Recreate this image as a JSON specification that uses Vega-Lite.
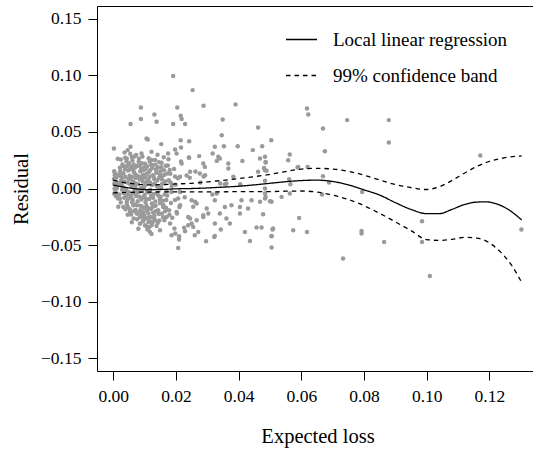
{
  "$schema": "https://vega.github.io/schema/vega-lite/v6.json",
  "width": 441,
  "height": 365,
  "autosize": {"type": "none"},
  "padding": {"left": 97, "top": 6, "right": 0, "bottom": 79},
  "config": {
    "font": "Liberation Serif",
    "view": {"stroke": "black", "strokeWidth": 1},
    "axis": {"grid": false, "domain": false, "tickColor": "black", "tickSize": 9, "tickWidth": 1, "labelFont": "Liberation Serif", "labelFontSize": 17.5, "labelColor": "black", "titleFont": "Liberation Serif", "titleFontSize": 20.5, "titleFontWeight": "normal", "titleColor": "black"}
  },
  "datasets": {
    "pts": [
      {"x":0.0191,"y":0.0993},{"x":0.0253,"y":0.0869},{"x":0.0088,"y":0.0716},{"x":0.0204,"y":0.0716},{"x":0.0288,"y":0.073},{"x":0.039,"y":0.0743},{"x":0.0131,"y":0.0654},{"x":0.0088,"y":0.0613},{"x":0.0215,"y":0.0642},{"x":0.0218,"y":0.0613},{"x":0.0055,"y":0.0569},{"x":0.0138,"y":0.0589},{"x":0.0191,"y":0.0569},{"x":0.0229,"y":0.0569},{"x":0.0349,"y":0.061},{"x":0.0462,"y":0.0539},{"x":0.0346,"y":0.0471},{"x":0.0106,"y":0.0442},{"x":0.011,"y":0.0433},{"x":0.0215,"y":0.0427},{"x":0.0242,"y":0.0418},{"x":0.0504,"y":0.0427},{"x":0.0153,"y":0.0392},{"x":0.0002,"y":0.0354},{"x":0.0055,"y":0.0368},{"x":0.0324,"y":0.0368},{"x":0.0353,"y":0.0374},{"x":0.0397,"y":0.0374},{"x":0.0445,"y":0.0339},{"x":0.0475,"y":0.0374},{"x":0.0563,"y":0.0301},{"x":0.062,"y":0.0191},{"x":0.059,"y":0.0191},{"x":0.0046,"y":0.0339},{"x":0.009,"y":0.0309},{"x":0.0122,"y":0.0324},{"x":0.0175,"y":0.0309},{"x":0.0202,"y":0.0309},{"x":0.0241,"y":0.0274},{"x":0.0274,"y":0.0286},{"x":0.0317,"y":0.0309},{"x":0.0335,"y":0.028},{"x":0.033,"y":0.0244},{"x":0.0367,"y":0.0221},{"x":0.0412,"y":0.0244},{"x":0.0468,"y":0.0265},{"x":0.0486,"y":0.0235},{"x":0.0462,"y":0.0147},{"x":0.0489,"y":0.0156},{"x":0.0287,"y":0.0221},{"x":0.0292,"y":0.0191},{"x":0.0245,"y":0.0147},{"x":0.0213,"y":0.0103},{"x":0.0276,"y":0.0133},{"x":0.0383,"y":0.0103},{"x":0.0361,"y":0.0044},{"x":0.0024,"y":0.0256},{"x":0.0043,"y":0.0265},{"x":0.0059,"y":0.0279},
      {"x":0.0197,"y":0.0345},{"x":0.0216,"y":0.0363},{"x":0.034,"y":0.0265},{"x":0.0242,"y":0.0271},{"x":0.0218,"y":0.0221},{"x":0.0262,"y":0.015},{"x":0.0234,"y":0.0115},{"x":0.0244,"y":0.0095},{"x":0.0197,"y":0.0106},{"x":0.0288,"y":0.0106},{"x":0.0293,"y":0.0118},{"x":0.0341,"y":0.0044},{"x":0.0356,"y":0.0038},{"x":0.0405,"y":0.0038},{"x":0.0481,"y":0.0182},{"x":0.0367,"y":0.0177},{"x":0.0278,"y":0.0053},{"x":0.0316,"y":-0.0053},{"x":0.033,"y":-0.0044},
      {"x":0.0043,"y":-0.0059},{"x":0.0032,"y":-0.0163},{"x":0.0053,"y":-0.0207},{"x":0.0075,"y":-0.0221},{"x":0.0085,"y":-0.0251},{"x":0.0096,"y":-0.028},{"x":0.0112,"y":-0.0295},{"x":0.0117,"y":-0.0384},{"x":0.0149,"y":-0.0369},{"x":0.0186,"y":-0.0413},{"x":0.021,"y":-0.0422},{"x":0.021,"y":-0.0451},{"x":0.0207,"y":-0.0525},{"x":0.026,"y":-0.0413},{"x":0.0271,"y":-0.0384},{"x":0.0296,"y":-0.0466},{"x":0.0322,"y":-0.0428},{"x":0.0343,"y":-0.0363},{"x":0.042,"y":-0.0384},{"x":0.0436,"y":-0.0463},{"x":0.0457,"y":-0.0345},{"x":0.0473,"y":-0.0345},{"x":0.0505,"y":-0.0422},{"x":0.0508,"y":-0.0363},{"x":0.0505,"y":-0.0522},{"x":0.0478,"y":-0.0227},{"x":0.0574,"y":-0.0369},{"x":0.0593,"y":-0.026},{"x":0.0618,"y":-0.0384},{"x":0.0181,"y":-0.031},{"x":0.017,"y":-0.0251},{"x":0.0239,"y":-0.0251},{"x":0.025,"y":-0.031},{"x":0.0266,"y":-0.028},{"x":0.0287,"y":-0.0251},{"x":0.0298,"y":-0.0177},{"x":0.0324,"y":-0.031},{"x":0.0361,"y":-0.0265},{"x":0.0372,"y":-0.031},{"x":0.034,"y":-0.0221},{"x":0.0356,"y":-0.0163},{"x":0.0377,"y":-0.0148},{"x":0.0404,"y":-0.0163},{"x":0.0404,"y":-0.0221},{"x":0.043,"y":-0.0177},{"x":0.0468,"y":-0.0118},{"x":0.0484,"y":-0.0088},{"x":0.0505,"y":-0.0118},{"x":0.0537,"y":-0.0074},{"x":0.0563,"y":-0.0044},{"x":0.0324,"y":-0.0103},{"x":0.025,"y":-0.0103},{"x":0.0266,"y":-0.0133},{"x":0.0213,"y":-0.0148},{"x":0.0202,"y":-0.0207},{"x":0.0207,"y":-0.0088},{"x":0.0159,"y":-0.0163},{"x":0.0143,"y":-0.0207},{"x":0.0133,"y":-0.028},{"x":0.0122,"y":-0.0324},{"x":0.0101,"y":-0.0324},{"x":0.009,"y":-0.0207},{"x":0.0064,"y":-0.0148},{"x":0.0043,"y":-0.0118},{"x":0.0021,"y":-0.0088},{"x":0.0409,"y":-0.0103},{"x":0.0441,"y":-0.0103},
      {"x":0.0228,"y":-0.0077},{"x":0.0261,"y":-0.0118},{"x":0.0255,"y":-0.0162},{"x":0.0287,"y":-0.0236},{"x":0.0303,"y":-0.0221},{"x":0.0245,"y":-0.0265},{"x":0.0239,"y":-0.0324},{"x":0.0255,"y":-0.0339},{"x":0.0324,"y":-0.0419},{"x":0.0195,"y":-0.0353},{"x":0.0198,"y":-0.0398},{"x":0.0226,"y":-0.0346},{"x":0.0229,"y":-0.0377},
      {"x":0.0618,"y":0.0707},{"x":0.0622,"y":0.0654},{"x":0.0746,"y":0.0604},{"x":0.0879,"y":0.0604},{"x":0.0879,"y":0.0407},{"x":0.0669,"y":0.053},{"x":0.0675,"y":0.033},{"x":0.0484,"y":0.028},{"x":0.0486,"y":0.023},{"x":0.0484,"y":0.0162},{"x":0.0558,"y":0.025},{"x":0.0588,"y":0.0186},{"x":0.0669,"y":0.0109},{"x":0.0688,"y":0.0053},{"x":0.0561,"y":0.0082},{"x":0.0565,"y":0.0038},{"x":0.0484,"y":0.0068},{"x":0.0484,"y":0.0},{"x":0.0484,"y":-0.0044},{"x":0.0486,"y":-0.0074},{"x":0.05,"y":-0.0112},{"x":0.0666,"y":-0.0053},{"x":0.0794,"y":-0.003},{"x":0.051,"y":-0.0354},{"x":0.0505,"y":-0.0419},{"x":0.0792,"y":-0.0375},{"x":0.0792,"y":-0.0398},{"x":0.0864,"y":-0.0472},{"x":0.0733,"y":-0.0619},{"x":0.1171,"y":0.0292},{"x":0.0985,"y":-0.0289},{"x":0.0985,"y":-0.0472},{"x":0.101,"y":-0.0773},{"x":0.1302,"y":-0.0363},
      {"x":0.0003,"y":0.0153},{"x":0.0005,"y":0.0118},{"x":0.0002,"y":0.0085},{"x":0.0006,"y":0.0062},{"x":0.0003,"y":0.0041},{"x":0.0008,"y":0.0021},{"x":0.0004,"y":-0.0003},{"x":0.0007,"y":-0.0024},{"x":0.0003,"y":-0.0047},{"x":0.0009,"y":-0.0068},{"x":0.0005,"y":0.0134},{"x":0.001,"y":0.0098},
      {"x":0.0014,"y":0.0262},{"x":0.0021,"y":0.0184},{"x":0.0017,"y":0.0122},{"x":0.0025,"y":0.0071},{"x":0.0013,"y":0.0033},{"x":0.0028,"y":-0.0012},{"x":0.0019,"y":-0.0052},{"x":0.0024,"y":-0.0124},{"x":0.0029,"y":0.0213},{"x":0.0016,"y":-0.0161},{"x":0.0027,"y":0.0094},{"x":0.0022,"y":0.0152},{"x":0.0018,"y":0.0048},
      {"x":0.0036,"y":0.0318},{"x":0.0042,"y":0.0241},{"x":0.0033,"y":0.0196},{"x":0.0047,"y":0.0158},{"x":0.0038,"y":0.0104},{"x":0.0045,"y":0.0052},{"x":0.0031,"y":0.0011},{"x":0.0049,"y":-0.0031},{"x":0.0035,"y":-0.0082},{"x":0.0043,"y":-0.0136},{"x":0.0039,"y":-0.0184},{"x":0.0046,"y":-0.0232},{"x":0.0032,"y":0.0134},{"x":0.0048,"y":0.0087},{"x":0.0041,"y":-0.0012},
      {"x":0.0054,"y":0.0308},{"x":0.0061,"y":0.0247},{"x":0.0057,"y":0.0192},{"x":0.0066,"y":0.0143},{"x":0.0052,"y":0.0113},{"x":0.0063,"y":0.0062},{"x":0.0058,"y":0.0024},{"x":0.0067,"y":-0.0018},{"x":0.0055,"y":-0.0064},{"x":0.0062,"y":-0.0102},{"x":0.0069,"y":-0.0141},{"x":0.0053,"y":-0.0183},{"x":0.0065,"y":-0.0264},{"x":0.0059,"y":-0.0298},{"x":0.0068,"y":0.0283},{"x":0.0056,"y":0.0083},{"x":0.0064,"y":-0.0043},{"x":0.0051,"y":0.0168},
      {"x":0.0073,"y":0.0296},{"x":0.0081,"y":0.0236},{"x":0.0077,"y":0.0201},{"x":0.0086,"y":0.0153},{"x":0.0072,"y":0.0122},{"x":0.0084,"y":0.0079},{"x":0.0079,"y":0.0038},{"x":0.0088,"y":0.0003},{"x":0.0074,"y":-0.0036},{"x":0.0083,"y":-0.0073},{"x":0.0078,"y":-0.0113},{"x":0.0087,"y":-0.0152},{"x":0.0071,"y":-0.0189},{"x":0.0085,"y":-0.0312},{"x":0.0076,"y":-0.0272},{"x":0.0089,"y":0.0172},{"x":0.0075,"y":-0.0009},{"x":0.0082,"y":0.0264},{"x":0.008,"y":-0.0356},
      {"x":0.0093,"y":0.0282},{"x":0.0101,"y":0.0218},{"x":0.0097,"y":0.0184},{"x":0.0106,"y":0.0131},{"x":0.0092,"y":0.0093},{"x":0.0104,"y":0.0052},{"x":0.0098,"y":0.0014},{"x":0.0108,"y":-0.0028},{"x":0.0095,"y":-0.0078},{"x":0.0103,"y":-0.0121},{"x":0.0091,"y":-0.0158},{"x":0.0107,"y":-0.0197},{"x":0.0099,"y":-0.0238},{"x":0.0094,"y":-0.0289},{"x":0.0105,"y":-0.0331},{"x":0.0109,"y":-0.0362},{"x":0.0096,"y":0.0163},{"x":0.0102,"y":0.0032},{"x":0.01,"y":-0.0058},
      {"x":0.0113,"y":0.0268},{"x":0.0121,"y":0.0209},{"x":0.0117,"y":0.0161},{"x":0.0126,"y":0.0118},{"x":0.0112,"y":0.0073},{"x":0.0124,"y":0.0031},{"x":0.0118,"y":-0.0011},{"x":0.0128,"y":-0.0049},{"x":0.0115,"y":-0.0092},{"x":0.0123,"y":-0.0133},{"x":0.0111,"y":-0.0172},{"x":0.0127,"y":-0.0213},{"x":0.0119,"y":-0.0252},{"x":0.0125,"y":-0.0302},{"x":0.0114,"y":-0.0343},{"x":0.0122,"y":-0.0402},{"x":0.0129,"y":0.0102},{"x":0.0116,"y":0.0238},
      {"x":0.0134,"y":0.0251},{"x":0.0142,"y":0.0188},{"x":0.0137,"y":0.0139},{"x":0.0146,"y":0.0092},{"x":0.0132,"y":0.0043},{"x":0.0144,"y":0.0004},{"x":0.0139,"y":-0.0042},{"x":0.0148,"y":-0.0098},{"x":0.0135,"y":-0.0152},{"x":0.0143,"y":-0.0193},{"x":0.0131,"y":-0.0241},{"x":0.0147,"y":-0.0283},{"x":0.0138,"y":-0.0331},{"x":0.0141,"y":0.0298},
      {"x":0.0154,"y":0.0228},{"x":0.0162,"y":0.0161},{"x":0.0157,"y":0.0112},{"x":0.0166,"y":0.0063},{"x":0.0152,"y":0.0012},{"x":0.0164,"y":-0.0053},{"x":0.0158,"y":-0.0108},{"x":0.0168,"y":-0.0171},{"x":0.0155,"y":-0.0222},{"x":0.0163,"y":-0.0281},{"x":0.0161,"y":0.0276},
      {"x":0.0174,"y":0.0203},{"x":0.0182,"y":0.0131},{"x":0.0177,"y":0.0072},{"x":0.0186,"y":0.0021},{"x":0.0172,"y":-0.0062},{"x":0.0184,"y":-0.0128},{"x":0.0178,"y":-0.0192},{"x":0.0188,"y":-0.0259},{"x":0.0176,"y":0.0258},
      {"x":0.0194,"y":0.0172},{"x":0.0206,"y":0.0091},{"x":0.0199,"y":0.0033},{"x":0.0213,"y":-0.0031},{"x":0.0197,"y":-0.0102},{"x":0.0211,"y":-0.0163},{"x":0.0203,"y":-0.0221},{"x":0.0216,"y":0.0238},
      {"x":0.0044,"y":0.0198},{"x":0.0052,"y":0.0041},{"x":0.006,"y":-0.0121},{"x":0.007,"y":0.0186},{"x":0.0071,"y":0.0047},{"x":0.0078,"y":-0.0221},{"x":0.0082,"y":0.0107},{"x":0.009,"y":-0.0098},{"x":0.0091,"y":0.0224},{"x":0.0098,"y":-0.0172},{"x":0.0102,"y":0.0096},{"x":0.0108,"y":0.0197},{"x":0.011,"y":-0.0261},{"x":0.0111,"y":-0.0034},{"x":0.0118,"y":0.0052},{"x":0.012,"y":-0.0182},{"x":0.0124,"y":0.0183},{"x":0.0127,"y":-0.0082},{"x":0.0133,"y":0.0211},{"x":0.0134,"y":-0.0114},{"x":0.014,"y":0.0071},{"x":0.0145,"y":-0.0226},{"x":0.015,"y":0.0152},{"x":0.0151,"y":-0.0072},{"x":0.0156,"y":0.0041},{"x":0.016,"y":-0.0146},{"x":0.0167,"y":0.0201},{"x":0.017,"y":-0.0021},{"x":0.0035,"y":0.0063},{"x":0.0047,"y":-0.0092},{"x":0.0057,"y":-0.0229},{"x":0.0065,"y":0.0212},{"x":0.0086,"y":-0.0193},{"x":0.0094,"y":0.0062},{"x":0.0105,"y":-0.0092},{"x":0.0113,"y":0.0142},{"x":0.013,"y":-0.0262},{"x":0.0136,"y":0.0168},{"x":0.0149,"y":0.0122},{"x":0.0165,"y":-0.0201},{"x":0.018,"y":0.0163},{"x":0.0185,"y":-0.0031},{"x":0.0026,"y":0.0038},{"x":0.0038,"y":0.0271},{"x":0.0061,"y":0.0105},{"x":0.0073,"y":-0.0066},{"x":0.0096,"y":-0.0212},{"x":0.0119,"y":-0.0292},{"x":0.0143,"y":-0.0062},{"x":0.0153,"y":0.0187},
      {"x":0.0012,"y":0.0005},{"x":0.0015,"y":-0.0089},{"x":0.0023,"y":0.0112},{"x":0.0034,"y":-0.0042},{"x":0.0037,"y":0.0169},{"x":0.0046,"y":-0.0161},{"x":0.005,"y":0.0223},{"x":0.0058,"y":-0.0082},{"x":0.0062,"y":0.0168},{"x":0.0066,"y":-0.0198},{"x":0.0069,"y":0.0021},{"x":0.0072,"y":0.0092},{"x":0.0076,"y":-0.0149},{"x":0.0081,"y":-0.0032},{"x":0.0084,"y":0.0203},{"x":0.0088,"y":-0.0242},{"x":0.0092,"y":-0.0021},{"x":0.0095,"y":0.0121},{"x":0.0099,"y":-0.0268},{"x":0.0103,"y":0.0172},{"x":0.0106,"y":-0.0152},{"x":0.0109,"y":0.0062},{"x":0.0112,"y":-0.0221},{"x":0.0115,"y":0.0101},{"x":0.0121,"y":-0.0062},{"x":0.0123,"y":0.0252},{"x":0.0126,"y":-0.0161},{"x":0.0131,"y":0.0081},{"x":0.0135,"y":-0.0201},{"x":0.0139,"y":0.0022},{"x":0.0142,"y":-0.0302},{"x":0.0146,"y":0.0231},{"x":0.0149,"y":-0.0131},{"x":0.0155,"y":0.0082},{"x":0.0159,"y":-0.0253},{"x":0.0163,"y":0.0122},{"x":0.0169,"y":-0.0102},{"x":0.0173,"y":0.0132},{"x":0.0179,"y":-0.0232},{"x":0.0183,"y":0.0052}
    ],
    "curves": [
      {"x":0,"y":0.003,"series":"Local linear regression","part":"fit"},{"x":0.004,"y":0.001,"series":"Local linear regression","part":"fit"},{"x":0.008,"y":-0.0005,"series":"Local linear regression","part":"fit"},{"x":0.012,"y":-0.001,"series":"Local linear regression","part":"fit"},{"x":0.016,"y":-0.0008,"series":"Local linear regression","part":"fit"},{"x":0.02,"y":-0.0003,"series":"Local linear regression","part":"fit"},{"x":0.025,"y":0,"series":"Local linear regression","part":"fit"},{"x":0.03,"y":0.0005,"series":"Local linear regression","part":"fit"},{"x":0.035,"y":0.0012,"series":"Local linear regression","part":"fit"},{"x":0.04,"y":0.002,"series":"Local linear regression","part":"fit"},{"x":0.045,"y":0.0032,"series":"Local linear regression","part":"fit"},{"x":0.05,"y":0.0046,"series":"Local linear regression","part":"fit"},{"x":0.055,"y":0.006,"series":"Local linear regression","part":"fit"},{"x":0.06,"y":0.007,"series":"Local linear regression","part":"fit"},{"x":0.065,"y":0.0074,"series":"Local linear regression","part":"fit"},{"x":0.07,"y":0.0062,"series":"Local linear regression","part":"fit"},{"x":0.075,"y":0.0032,"series":"Local linear regression","part":"fit"},{"x":0.08,"y":-0.0012,"series":"Local linear regression","part":"fit"},{"x":0.085,"y":-0.0058,"series":"Local linear regression","part":"fit"},{"x":0.09,"y":-0.0125,"series":"Local linear regression","part":"fit"},{"x":0.095,"y":-0.0185,"series":"Local linear regression","part":"fit"},{"x":0.1,"y":-0.0222,"series":"Local linear regression","part":"fit"},{"x":0.104,"y":-0.0222,"series":"Local linear regression","part":"fit"},{"x":0.108,"y":-0.0185,"series":"Local linear regression","part":"fit"},{"x":0.112,"y":-0.0142,"series":"Local linear regression","part":"fit"},{"x":0.116,"y":-0.012,"series":"Local linear regression","part":"fit"},{"x":0.119,"y":-0.0118,"series":"Local linear regression","part":"fit"},{"x":0.122,"y":-0.0133,"series":"Local linear regression","part":"fit"},{"x":0.126,"y":-0.0185,"series":"Local linear regression","part":"fit"},{"x":0.1303,"y":-0.0278,"series":"Local linear regression","part":"fit"},
      {"x":0,"y":0.0073,"series":"99% confidence band","part":"upper"},{"x":0.004,"y":0.005,"series":"99% confidence band","part":"upper"},{"x":0.008,"y":0.0037,"series":"99% confidence band","part":"upper"},{"x":0.012,"y":0.0032,"series":"99% confidence band","part":"upper"},{"x":0.016,"y":0.0035,"series":"99% confidence band","part":"upper"},{"x":0.02,"y":0.004,"series":"99% confidence band","part":"upper"},{"x":0.025,"y":0.0046,"series":"99% confidence band","part":"upper"},{"x":0.03,"y":0.0058,"series":"99% confidence band","part":"upper"},{"x":0.035,"y":0.0072,"series":"99% confidence band","part":"upper"},{"x":0.04,"y":0.0088,"series":"99% confidence band","part":"upper"},{"x":0.045,"y":0.0105,"series":"99% confidence band","part":"upper"},{"x":0.05,"y":0.0125,"series":"99% confidence band","part":"upper"},{"x":0.055,"y":0.015,"series":"99% confidence band","part":"upper"},{"x":0.06,"y":0.0172,"series":"99% confidence band","part":"upper"},{"x":0.065,"y":0.0178,"series":"99% confidence band","part":"upper"},{"x":0.07,"y":0.0172,"series":"99% confidence band","part":"upper"},{"x":0.075,"y":0.0152,"series":"99% confidence band","part":"upper"},{"x":0.08,"y":0.0118,"series":"99% confidence band","part":"upper"},{"x":0.085,"y":0.0075,"series":"99% confidence band","part":"upper"},{"x":0.09,"y":0.0035,"series":"99% confidence band","part":"upper"},{"x":0.095,"y":0.0008,"series":"99% confidence band","part":"upper"},{"x":0.0995,"y":-0.0009,"series":"99% confidence band","part":"upper"},{"x":0.104,"y":0.0015,"series":"99% confidence band","part":"upper"},{"x":0.108,"y":0.007,"series":"99% confidence band","part":"upper"},{"x":0.112,"y":0.0135,"series":"99% confidence band","part":"upper"},{"x":0.116,"y":0.0195,"series":"99% confidence band","part":"upper"},{"x":0.12,"y":0.024,"series":"99% confidence band","part":"upper"},{"x":0.125,"y":0.0272,"series":"99% confidence band","part":"upper"},{"x":0.1303,"y":0.0288,"series":"99% confidence band","part":"upper"},
      {"x":0,"y":-0.0039,"series":"99% confidence band","part":"lower"},{"x":0.004,"y":-0.0035,"series":"99% confidence band","part":"lower"},{"x":0.01,"y":-0.0032,"series":"99% confidence band","part":"lower"},{"x":0.02,"y":-0.003,"series":"99% confidence band","part":"lower"},{"x":0.03,"y":-0.003,"series":"99% confidence band","part":"lower"},{"x":0.04,"y":-0.0028,"series":"99% confidence band","part":"lower"},{"x":0.05,"y":-0.0027,"series":"99% confidence band","part":"lower"},{"x":0.055,"y":-0.0024,"series":"99% confidence band","part":"lower"},{"x":0.06,"y":-0.0022,"series":"99% confidence band","part":"lower"},{"x":0.065,"y":-0.0032,"series":"99% confidence band","part":"lower"},{"x":0.07,"y":-0.0058,"series":"99% confidence band","part":"lower"},{"x":0.075,"y":-0.0098,"series":"99% confidence band","part":"lower"},{"x":0.08,"y":-0.0152,"series":"99% confidence band","part":"lower"},{"x":0.085,"y":-0.022,"series":"99% confidence band","part":"lower"},{"x":0.09,"y":-0.0295,"series":"99% confidence band","part":"lower"},{"x":0.095,"y":-0.0372,"series":"99% confidence band","part":"lower"},{"x":0.1,"y":-0.0452,"series":"99% confidence band","part":"lower"},{"x":0.104,"y":-0.0458,"series":"99% confidence band","part":"lower"},{"x":0.108,"y":-0.045,"series":"99% confidence band","part":"lower"},{"x":0.112,"y":-0.0432,"series":"99% confidence band","part":"lower"},{"x":0.116,"y":-0.0438,"series":"99% confidence band","part":"lower"},{"x":0.12,"y":-0.048,"series":"99% confidence band","part":"lower"},{"x":0.1235,"y":-0.056,"series":"99% confidence band","part":"lower"},{"x":0.127,"y":-0.0675,"series":"99% confidence band","part":"lower"},{"x":0.1303,"y":-0.083,"series":"99% confidence band","part":"lower"}
    ]
  },
  "layer": [
    {
      "mark": {"type": "rule", "color": "#9a9a9a", "strokeWidth": 1},
      "encoding": {"y": {"datum": 0, "type": "quantitative"}}
    },
    {
      "data": {"name": "pts"},
      "mark": {"type": "circle", "size": 20, "color": "#9a9a9a", "opacity": 1},
      "encoding": {
        "x": {"field": "x", "type": "quantitative", "title": "Expected loss",
          "scale": {"domain": [-0.0052, 0.1355], "nice": false, "zero": false},
          "axis": {"values": [0, 0.02, 0.04, 0.06, 0.08, 0.1, 0.12], "format": ".2f", "labelPadding": 7, "titlePadding": 22, "labelFlush": false}},
        "y": {"field": "y", "type": "quantitative", "title": "Residual",
          "scale": {"domain": [-0.1612, 0.1612], "nice": false, "zero": false},
          "axis": {"values": [-0.15, -0.1, -0.05, 0, 0.05, 0.1, 0.15], "format": ".2f", "labelPadding": 7, "titlePadding": 9, "labelFlush": false}}
      }
    },
    {
      "data": {"name": "curves"},
      "mark": {"type": "line", "color": "black", "strokeWidth": 1.3, "interpolate": "monotone"},
      "encoding": {
        "x": {"field": "x", "type": "quantitative"},
        "y": {"field": "y", "type": "quantitative"},
        "detail": {"field": "part"},
        "strokeDash": {"field": "series", "type": "nominal", "sort": null,
          "scale": {"domain": ["Local linear regression", "99% confidence band"], "range": [[1, 0], [4.5, 4]]},
          "legend": {"orient": "none", "legendX": 188, "legendY": 17, "title": null, "symbolType": "stroke", "symbolSize": 961, "symbolStrokeWidth": 1.3, "symbolStrokeColor": "black", "labelFont": "Liberation Serif", "labelFontSize": 19, "labelColor": "black", "labelOffset": 15, "rowPadding": 9, "padding": 0, "labelLimit": 400}}
      }
    }
  ]
}
